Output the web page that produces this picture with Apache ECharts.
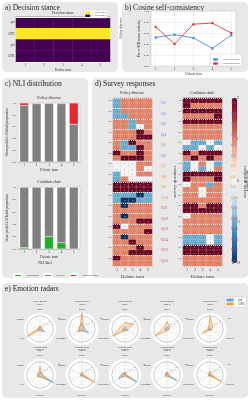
<!DOCTYPE html>
<html>
<head>
<meta charset="utf-8">
<script src="https://cdn.jsdelivr.net/npm/echarts@6/dist/echarts.min.js"></script>
<style>
  html, body { margin: 0; padding: 0; background: #fff; }
  #main { width: 250px; height: 400px; }
</style>
</head>
<body>
<div id="main"></div>
<script>
var FONT = 'Liberation Serif';
var turns = ['1', '2', '3', '4', '5'];

// a) decision stance
var stanceRows = ['pol', 'OTR', 'pol', 'OTR'];
var stanceRoles = ['Policy director', 'Coalition chair'];
var stance = [
  [0, 0, 0, 0, 0],
  [1, 1, 1, 1, 1],
  [0, 0, 0, 0, 0],
  [0, 0, 0, 0, 0]
];

// b) cosine self-consistency
var cosPolicy = [0.52, 0.57, 0.51, 0.32, 0.56];
var cosCoalition = [0.71, 0.40, 0.76, 0.78, 0.60];

// c) NLI distribution
var nliLabels = ['entailment', 'neutral', 'contradiction'];
var nliPolicyEnt = [0, 0, 0, 0, 0];
var nliPolicyNeu = [0.96, 0.99, 0.99, 0.99, 0.64];
var nliPolicyCon = [0.04, 0.01, 0.01, 0.01, 0.36];
var nliCoalitionEnt = [0.02, 0, 0.2, 0.1, 0];
var nliCoalitionNeu = [0.98, 1, 0.8, 0.9, 1];
var nliCoalitionCon = [0, 0, 0, 0, 0];

// d) survey responses (two rows per question: pol, OTR)
var questions = ['Q1','Q2','Q3','Q4','Q5','Q6','Q7','Q8','Q9','Q10','Q11','Q12','Q13','Q14','Q15','Q16'];
var questionGroup = [0,0,0,0,0,0,1,1,1,1,2,2,2,2,2,2];
var surveyPolicy = [
  [-1,1,1,1,1], [-1,1,1,1,1],
  [-1,1,1,1,1], [-1,-1,1,1,1],
  [1,1,-1,1,1], [1,1,-1,0,1],
  [1,1,1,2,1], [1,1,1,2,2],
  [1,-1,2,1,1], [1,-1,-1,2,1],
  [2,1,1,2,1], [1,2,2,2,1],
  [0,0,0,1,1], [0,0,0,1,0],
  [-1,0,0,1,1], [-1,1,0,0,0],
  [2,2,2,2,2], [2,2,2,2,2],
  [-1,-1,-1,-2,-1], [-1,-2,-2,-1,-1],
  [1,-2,1,1,1], [1,1,1,1,1],
  [1,-2,1,1,1], [1,1,1,2,2],
  [2,0,1,1,1], [1,1,1,1,2],
  [1,-2,1,1,1], [1,1,2,1,1],
  [1,1,1,2,1], [1,1,2,2,2],
  [2,1,1,1,1], [1,1,1,1,1]
];
var surveyCoalition = [
  [2,2,2,2,2], [2,1,1,1,1],
  [2,2,2,2,2], [1,1,1,1,2],
  [2,2,2,2,2], [1,1,1,1,1],
  [1,1,1,1,1], [1,1,1,1,1],
  [0,-1,-1,0,-1], [-1,-1,0,-1,0],
  [2,1,2,2,2], [1,2,1,2,1],
  [-1,0,1,0,-1], [-1,0,-1,0,1],
  [2,2,2,2,2], [2,1,1,1,2],
  [0,1,1,-1,1], [1,1,0,1,1],
  [1,1,0,1,1], [1,1,1,1,1],
  [2,2,1,2,2], [2,2,2,2,2],
  [0,1,1,1,1], [1,1,1,1,1],
  [1,1,1,1,1], [1,1,1,1,1],
  [-1,-1,-1,0,-1], [-1,-1,-1,0,-1],
  [2,2,2,2,2], [2,2,2,2,2],
  [1,1,1,1,1], [1,1,1,1,1]
];

// e) emotion radars
var emotions = ['anger', 'disgust', 'fear', 'sadness', 'surprise', 'joy'];
var radarTitles = [
  'Policy director\nturn 1', 'Policy director\nturn 2', 'Policy director\nturn 3', 'Policy director\nturn 4', 'Policy director\nturn 5',
  'Coalition chair\nturn 1', 'Coalition chair\nturn 2', 'Coalition chair\nturn 3', 'Coalition chair\nturn 4', 'Coalition chair\nturn 5'
];
var radarPol = [
  [0.1, 0.1, 0.15, 0.1, 0.3, 0.1],
  [0.35, 0.2, 0.2, 0.1, 0.45, 0.15],
  [0.1, 0.1, 0.2, 0.05, 0.2, 0.1],
  [0.1, 0.1, 0.15, 0.05, 0.1, 0.1],
  [0.1, 0.05, 0.1, 0.05, 0.1, 0.05],
  [0.2, 0.15, 0.15, 0.1, 0.95, 0.1],
  [0.1, 0.1, 0.1, 0.05, 0.45, 0.05],
  [0.1, 0.2, 0.45, 0.05, 0.85, 0.05],
  [0.15, 0.1, 0.1, 0.05, 0.7, 0.05],
  [0.1, 0.05, 0.1, 0.05, 0.25, 0.05]
];
var radarOtr = [
  [0.2, 0.1, 0.9, 0.05, 0.08, 0.1],
  [0.95, 0.15, 0.35, 0.1, 0.2, 0.1],
  [0.4, 0.3, 0.85, 0.1, 0.15, 0.6],
  [0.45, 0.2, 0.8, 0.1, 0.1, 0.2],
  [0.75, 0.1, 0.55, 0.05, 0.1, 0.2],
  [0.5, 0.1, 0.2, 0.1, 0.6, 0.1],
  [0.15, 0.05, 0.1, 0.05, 0.9, 0.05],
  [0.2, 0.1, 0.3, 0.05, 0.5, 0.05],
  [0.2, 0.1, 0.15, 0.05, 0.3, 0.1],
  [0.25, 0.1, 0.1, 0.05, 0.8, 0.05]
];

var BLUE = '#4a90d9', RED = '#e0393e', ORANGE = '#f39c3c';
var RBLUE = '#5fa2dd';
var qColors = ['#5a8fd0', '#e89a3c', '#c9474f'];

var chart = echarts.init(document.getElementById('main'));

// ---------- helpers ----------
function txt(x, y, s, size, extra) {
  return {
    type: 'text', x: x, y: y, silent: true,
    style: Object.assign({ text: s, fontSize: size, fontFamily: FONT, fill: '#222', align: 'center', verticalAlign: 'middle' }, extra || {})
  };
}
function small(size) { return { fontSize: size, fontFamily: FONT, color: '#333' }; }

var panels = [
  { x: 2, y: 2, w: 116, h: 70, t: 'a) Decision stance' },
  { x: 122, y: 2, w: 126, h: 70, t: 'b) Cosine self-consistency' },
  { x: 2, y: 78, w: 86, h: 200, t: 'c) NLI distribution' },
  { x: 92, y: 78, w: 156, h: 200, t: 'd) Survey responses' },
  { x: 2, y: 283, w: 246, h: 115, t: 'e) Emotion radars' }
];
var graphic = [];
panels.forEach(function (p) {
  graphic.push({ type: 'rect', z: -5, silent: true, shape: { x: p.x, y: p.y, width: p.w, height: p.h, r: 5 }, style: { fill: '#e8e8e8' } });
  graphic.push(txt(p.x + 3, p.y + 6, p.t, 7.5, { align: 'left' }));
});
graphic.push(txt(63, 13.5, 'Decision stance', 3.5));
graphic.push(txt(49, 98, 'Policy director', 4));
graphic.push(txt(49, 182, 'Coalition chair', 4));
graphic.push(txt(45, 263, 'NLI label', 3.5));
graphic.push(txt(132, 93, 'Policy director', 4));
graphic.push(txt(202, 93, 'Coalition chair', 4));
graphic.push(txt(223, 56.5, 'role', 2.8));

var radarCx = [40, 82, 125, 167, 210];
var radarCy = [329, 375];
radarTitles.forEach(function (t, i) {
  graphic.push(txt(radarCx[i % 5], radarCy[Math.floor(i / 5)] - 26, t, 2.4, { lineHeight: 2.8 }));
});

// ---------- grids ----------
var grid = [
  { left: 16, top: 17, width: 94, height: 45 },
  { left: 151, top: 11, width: 85, height: 55, show: true, backgroundColor: '#fff', borderColor: '#bbb', borderWidth: 0.5 },
  { left: 18, top: 103, width: 62, height: 59, show: true, backgroundColor: '#fff', borderColor: '#bbb', borderWidth: 0.5 },
  { left: 18, top: 187, width: 62, height: 62, show: true, backgroundColor: '#fff', borderColor: '#bbb', borderWidth: 0.5 },
  { left: 113, top: 98, width: 39, height: 168 },
  { left: 183, top: 98, width: 39, height: 168 },
  { left: 232, top: 98, width: 5, height: 165 }
];

function catX(gi, labelSize, nameSize, gap) {
  return {
    type: 'category', gridIndex: gi, data: turns,
    axisLine: { lineStyle: { color: '#999', width: 0.5 } }, axisTick: { length: 1.5, alignWithLabel: true, lineStyle: { width: 0.5 } },
    axisLabel: Object.assign({ margin: 2 }, small(labelSize)),
    name: 'Debate turn', nameLocation: 'middle', nameGap: gap, nameTextStyle: small(nameSize)
  };
}
function propY(gi) {
  return {
    type: 'value', gridIndex: gi, min: 0, max: 1, interval: 0.2,
    axisLine: { show: false }, axisTick: { show: false },
    axisLabel: Object.assign({ margin: 2, formatter: function (v) { return v.toFixed(1); } }, small(2.8)),
    splitLine: { lineStyle: { color: '#e6e6e6', width: 0.5 } },
    name: 'Mean prob/LLM label proportion', nameLocation: 'middle', nameGap: 8, nameTextStyle: small(3.6)
  };
}

var xAxis = [
  catX(0, 3, 3.5, 5),
  {
    type: 'value', gridIndex: 1, min: 0.75, max: 5.25, interval: 0.25,
    axisLine: { show: false }, axisTick: { show: false },
    axisLabel: Object.assign({ margin: 2, formatter: function (v) { return Math.abs(v - Math.round(v)) < 1e-6 ? String(Math.round(v)) : ''; } }, small(3)),
    splitLine: { show: true, lineStyle: { width: 0.5, color: ['rgba(0,0,0,0)', '#e6e6e6', 'rgba(0,0,0,0)', 'rgba(0,0,0,0)'] } },
    name: 'Debate turn', nameLocation: 'middle', nameGap: 5, nameTextStyle: small(3.5)
  },
  catX(2, 3, 3.8, 6),
  catX(3, 3, 3.8, 6),
  catX(4, 4, 5, 8),
  catX(5, 4, 5, 8),
  { type: 'value', gridIndex: 6, show: false, min: 0, max: 1 }
];

function rowAxis(gi, rows, size) {
  return {
    type: 'category', gridIndex: gi, data: rows, inverse: true,
    axisLine: { show: false }, axisTick: { show: false },
    axisLabel: Object.assign({ margin: 1.5 }, small(size))
  };
}
function questionAxis(gi) {
  return {
    type: 'category', gridIndex: gi, data: questions, inverse: true, offset: 8, z: 5,
    axisLine: { show: false }, axisTick: { show: false },
    axisLabel: { fontSize: 4, fontFamily: FONT, margin: 1, color: function (v, i) { return qColors[questionGroup[i]]; } },
    splitLine: { show: true, lineStyle: { color: '#fff', width: 0.8, type: [1, 1] } },
    name: 'survey question', nameLocation: 'middle', nameGap: 7, nameTextStyle: small(5)
  };
}
var surveyRows = [];
questions.forEach(function () { surveyRows.push('pol', 'OTR'); });

var yAxis = [
  rowAxis(0, stanceRows, 3),
  {
    type: 'category', gridIndex: 0, data: stanceRoles, inverse: true, offset: 8, z: 5,
    axisLine: { show: false }, axisTick: { show: false },
    axisLabel: Object.assign({ rotate: 90, margin: 1 }, small(3.5)),
    splitLine: { show: true, lineStyle: { color: '#fff', width: 1.2 } }
  },
  {
    type: 'value', gridIndex: 1, min: 0, max: 1, interval: 0.2,
    axisLine: { show: false }, axisTick: { show: false },
    axisLabel: Object.assign({ margin: 2, formatter: function (v) { return v.toFixed(2); } }, small(2.8)),
    splitLine: { lineStyle: { color: '#e6e6e6', width: 0.5 } },
    name: 'Pro vs OTR cosine similarity', nameLocation: 'middle', nameGap: 10, nameTextStyle: small(3.2)
  },
  propY(2),
  propY(3),
  rowAxis(4, surveyRows, 2.4),
  questionAxis(4),
  rowAxis(5, surveyRows, 2.4),
  questionAxis(5),
  {
    type: 'value', gridIndex: 6, min: -2, max: 2, interval: 1, position: 'right',
    axisLine: { show: false }, axisTick: { show: true, length: 1.5, lineStyle: { color: '#333', width: 0.5 } },
    axisLabel: Object.assign({ margin: 2 }, small(4)),
    splitLine: { show: false },
    name: 'Likert score', nameLocation: 'middle', nameRotate: 90, nameGap: 8, nameTextStyle: small(4.5)
  }
];

// ---------- series ----------
var series = [];

// a
var stanceData = [];
stance.forEach(function (row, r) { row.forEach(function (v, c) { stanceData.push([c, r, v]); }); });
series.push({ type: 'heatmap', xAxisIndex: 0, yAxisIndex: 0, data: stanceData, itemStyle: { borderColor: 'rgba(255,255,255,0.15)', borderWidth: 0.4 } });

// b
series.push({
  name: 'Policy director', type: 'line', xAxisIndex: 1, yAxisIndex: 2,
  data: cosPolicy.map(function (v, i) { return [i + 1, v]; }),
  symbol: 'circle', symbolSize: 2.5, lineStyle: { width: 0.9, color: BLUE }, itemStyle: { color: BLUE }
});
series.push({
  name: 'Coalition chair', type: 'line', xAxisIndex: 1, yAxisIndex: 2,
  data: cosCoalition.map(function (v, i) { return [i + 1, v]; }),
  symbol: 'circle', symbolSize: 2.5, lineStyle: { width: 0.9, color: RED }, itemStyle: { color: RED }
});

// c
var nliColors = ['#1fae2c', '#808080', '#e8262b'];
function bars(gi, arrs, stack) {
  arrs.forEach(function (arr, k) {
    series.push({
      name: nliLabels[k], type: 'bar', xAxisIndex: gi, yAxisIndex: gi + 1, stack: stack,
      data: arr, barWidth: '72%', itemStyle: { color: nliColors[k], borderColor: '#fff', borderWidth: 0.3 }
    });
  });
}
bars(2, [nliPolicyEnt, nliPolicyNeu, nliPolicyCon], 'p');
bars(3, [nliCoalitionEnt, nliCoalitionNeu, nliCoalitionCon], 'c');

// d
function surveyData(m) {
  var out = [];
  m.forEach(function (row, r) {
    row.forEach(function (v, c) {
      out.push({ value: [c, r, v], label: { color: Math.abs(v) === 2 ? '#f3d0d0' : '#555' } });
    });
  });
  return out;
}
var surveySeriesStart = series.length;
series.push({
  type: 'heatmap', xAxisIndex: 4, yAxisIndex: 5, data: surveyData(surveyPolicy),
  label: { show: true, fontSize: 2.6, fontFamily: FONT }, itemStyle: { borderColor: '#c8c8c8', borderWidth: 0.3 }
});
series.push({
  type: 'heatmap', xAxisIndex: 5, yAxisIndex: 7, data: surveyData(surveyCoalition),
  label: { show: true, fontSize: 2.6, fontFamily: FONT }, itemStyle: { borderColor: '#c8c8c8', borderWidth: 0.3 }
});

// e
var radar = radarTitles.map(function (t, i) {
  return {
    center: [radarCx[i % 5], radarCy[Math.floor(i / 5)]], radius: 16.5,
    shape: 'circle', splitNumber: 5, startAngle: 90,
    indicator: emotions.map(function (e, k) {
      var o = { name: e, max: 1 };
      if (k === 5) o.axisLabel = { show: true };
      return o;
    }),
    axisName: { fontSize: 2.6, fontFamily: FONT, color: '#444' },
    nameGap: 2,
    axisLabel: { show: false, fontSize: 2.2, fontFamily: FONT, color: '#777', margin: 1 },
    splitArea: { show: true, areaStyle: { color: ['#fff'] } },
    splitLine: { lineStyle: { width: 0.4, color: ['#dddddd', '#dddddd', '#dddddd', '#dddddd', '#777777'] } },
    axisLine: { lineStyle: { color: '#cfcfcf', width: 0.4 } }
  };
});
function radarSeries(name, i, values, col) {
  return {
    name: name, type: 'radar', radarIndex: i, symbol: 'none',
    itemStyle: { color: col },
    lineStyle: { width: 0.8, color: col },
    areaStyle: { color: col, opacity: 0.22 },
    data: [{ value: values, itemStyle: { color: col }, lineStyle: { color: col }, areaStyle: { color: col, opacity: 0.22 } }]
  };
}
radarTitles.forEach(function (t, i) {
  series.push(radarSeries('pol', i, radarPol[i], RBLUE));
  series.push(radarSeries('OTR', i, radarOtr[i], ORANGE));
});

var option = {
  animation: false,
  textStyle: { fontFamily: FONT },
  graphic: graphic,
  grid: grid,
  xAxis: xAxis,
  yAxis: yAxis,
  radar: radar,
  legend: [
    {
      data: ['Policy director', 'Coalition chair'], orient: 'vertical', left: 210, top: 54,
      itemWidth: 5, itemHeight: 3, itemGap: 1, padding: [4, 2, 1, 2],
      backgroundColor: '#fff', borderColor: '#ccc', borderWidth: 0.5,
      textStyle: small(2.8)
    },
    {
      data: nliLabels, left: 8, top: 268,
      itemWidth: 8, itemHeight: 3, itemGap: 4, icon: 'rect',
      textStyle: small(2.8)
    },
    {
      data: ['pol', 'OTR'], orient: 'vertical', right: 4, top: 297,
      itemWidth: 7, itemHeight: 3, itemGap: 1, padding: 1.5, icon: 'rect',
      backgroundColor: '#fff', borderColor: '#ccc', borderWidth: 0.5,
      textStyle: small(3)
    }
  ],
  visualMap: [
    {
      type: 'piecewise', seriesIndex: 0, orient: 'vertical', left: 84, top: 10,
      pieces: [
        { value: 1, label: '1 = OTR stance', color: '#fde725' },
        { value: 0, label: '0 = other stance', color: '#440154' }
      ],
      itemWidth: 5, itemHeight: 2.5, itemGap: 0.8, itemSymbol: 'rect', padding: 1,
      backgroundColor: '#fff', borderColor: '#ccc', borderWidth: 0.4,
      textStyle: small(2.4), textGap: 1
    },
    {
      type: 'continuous', seriesIndex: [surveySeriesStart, surveySeriesStart + 1], min: -2, max: 2,
      left: 232, top: 98, itemWidth: 5, itemHeight: 165, padding: 0, calculable: false,
      text: null, showLabel: false,
      inRange: { color: ['#053061', '#2166ac', '#4393c3', '#92c5de', '#d1e5f0', '#f7f7f7', '#fddbc7', '#f4a582', '#d6604d', '#b2182b', '#67001f'] }
    }
  ],
  series: series
};
chart.setOption(option);
</script>
</body>
</html>
